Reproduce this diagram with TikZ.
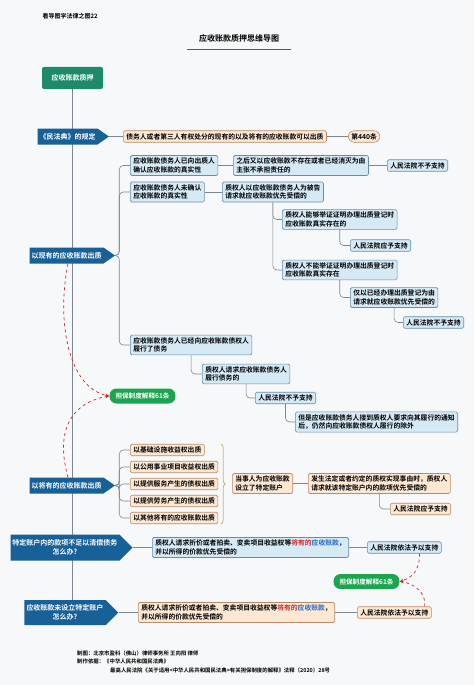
\documentclass[tikz,border=0pt]{standalone}
\usepackage{fontspec}
\setmainfont{Noto Sans CJK SC}[BoldFont={* Bold}]
\usetikzlibrary{shapes.symbols, arrows.meta, calc, decorations.pathreplacing}
\definecolor{paperfill}{RGB}{246,248,249}
\definecolor{topiccolor}{RGB}{24,96,152}
\definecolor{rootcolor}{RGB}{30,138,106}
\definecolor{pillcolor}{RGB}{28,165,80}
\definecolor{bluefill}{RGB}{214,234,246}
\definecolor{blueline}{RGB}{105,140,170}
\definecolor{orangefill}{RGB}{253,232,212}
\definecolor{orangeline}{RGB}{185,140,105}
\definecolor{linecolor}{RGB}{125,135,145}
\definecolor{notecolor}{RGB}{205,40,40}
\definecolor{bracecolor}{RGB}{205,185,105}
\definecolor{linkcolor}{RGB}{40,105,200}
\pgfdeclarelayer{paper}
\pgfdeclarelayer{links}
\pgfsetlayers{paper,links,main}

\begin{document}
\begin{tikzpicture}[x=1pt, y=-1pt,
    rootbox/.style={rectangle, rounded corners=2pt, fill=rootcolor, text=white,
                    minimum width=61pt, minimum height=22pt, font=\fontsize{7}{8}\selectfont\bfseries},
    topic/.style={signal, signal to=east, signal pointer angle=#1, fill=topiccolor, text=white,
                  align=center, inner sep=2pt, font=\fontsize{7}{9}\selectfont\bfseries},
    topic/.default=75,
    leaf/.style={rectangle, rounded corners=1.5pt, draw=#1line, fill=#1fill, line width=0.6pt,
                 align=left, inner xsep=3pt, inner ysep=2.5pt, font=\fontsize{6.8}{8.4}\selectfont\bfseries},
    pill/.style={rectangle, rounded corners=7pt, fill=pillcolor, text=white,
                 minimum height=15pt, inner xsep=6pt, font=\fontsize{6.6}{8}\selectfont\bfseries},
    foot/.style={anchor=west, inner sep=0pt, font=\fontsize{5.4}{6}\selectfont\bfseries},
    conn/.style={draw=linecolor, line width=0.6pt},
    elbow/.style={conn, rounded corners=4pt},
    note/.style={draw=notecolor, line width=0.7pt, dashed, -{Stealth[length=4pt]}}
]
\useasboundingbox (0,0) rectangle (474,685);
\begin{pgfonlayer}{paper}
  \fill[paperfill] (0,0) rectangle (474,685);
\end{pgfonlayer}

% Title
\node[font=\fontsize{6}{7}\selectfont\bfseries, anchor=west] (series) at (39,16) {看导图学法律之图22};
\node[font=\fontsize{8}{9}\selectfont\bfseries] (title) at (239,38) {应收账款质押思维导图};
\draw[notecolor, line width=0.9pt] ($(title.south west)+(-8,4)$) -- ($(title.south east)+(8,4)$);

% Trunk
\node[rootbox] (root) at (72.5,78) {应收账款质押};
\node[topic=70, minimum width=65pt, minimum height=16pt] (t1) at (67.5,136.5) {《民法典》的规定};
\node[topic=70, minimum width=79pt, minimum height=16pt] (t2) at (66.5,255.5) {以现有的应收账款出质};
\node[topic=70, minimum width=79pt, minimum height=16pt] (t3) at (66.5,485.5) {以将有的应收账款出质};
\node[topic=90, minimum width=120pt, minimum height=26pt] (t4) at (65,547.5) {特定账户内的款项不足以清偿债务\\怎么办?};
\node[topic=90, minimum width=94pt, minimum height=25pt] (t5) at (65,612.5) {应收账款未设立特定账户\\怎么办?};

% Civil code
\node[leaf=orange, anchor=west] (rule) at (123,136.5) {债务人或者第三人有权处分的现有的以及将有的应收账款可以出质};
\node[leaf=orange, anchor=west, rounded corners=6pt] (art) at (348,136.5) {第440条};

% Existing receivables
\node[leaf=blue, anchor=west] (c1) at (130,165.5) {应收账款债务人已向出质人\\确认应收账款的真实性};
\node[leaf=blue, anchor=west] (c1a) at (233,165.5) {之后又以应收账款不存在或者已经消灭为由\\主张不承担责任的};
\node[leaf=blue, anchor=west] (c1b) at (387,165.5) {人民法院不予支持};
\node[leaf=blue, anchor=west] (c2) at (130,192) {应收账款债务人未确认\\应收账款的真实性};
\node[leaf=blue, anchor=west] (c2a) at (222,192) {质权人以应收账款债务人为被告\\请求就应收账款优先受偿的};
\node[leaf=blue, anchor=west] (c2a1) at (282,219.5) {质权人能够举证证明办理出质登记时\\应收账款真实存在的};
\node[leaf=blue, anchor=west] (c2a1r) at (350,245.5) {人民法院应予支持};
\node[leaf=blue, anchor=west] (c2a2) at (282,270) {质权人不能举证证明办理出质登记时\\应收账款真实存在};
\node[leaf=blue, anchor=west] (c2a2a) at (350,297.5) {仅以已经办理出质登记为由\\请求就应收账款优先受偿的};
\node[leaf=blue, anchor=west] (c2a2b) at (403,322.5) {人民法院不予支持};
\node[leaf=blue, anchor=west] (c3) at (130,345) {应收账款债务人已经向应收账款债权人\\履行了债务};
\node[leaf=blue, anchor=west] (c3a) at (202,374) {质权人请求应收账款债务人\\履行债务的};
\node[leaf=blue, anchor=west] (c3b) at (255,398) {人民法院不予支持};
\node[leaf=blue, anchor=west] (c3c) at (295,422) {但是应收账款债务人接到质权人要求向其履行的通知\\后，仍然向应收账款债权人履行的除外};
\node[pill] (rule61a) at (142.5,396) {担保制度解释61条};

% Future receivables
\node[leaf=orange, anchor=west] (o1) at (130,450) {以基础设施收益权出质};
\node[leaf=orange, anchor=west] (o2) at (130,467) {以公用事业项目收益权出质};
\node[leaf=orange, anchor=west] (o3) at (130,484) {以提供服务产生的债权出质};
\node[leaf=orange, anchor=west] (o4) at (130,501) {以提供劳务产生的债权出质};
\node[leaf=orange, anchor=west] (o5) at (130,518) {以其他将有的应收账款出质};
\node[leaf=orange, anchor=west] (p1) at (232,483.5) {当事人为应收账款\\设立了特定账户};
\node[leaf=orange, anchor=west] (p1a) at (308,483.5) {发生法定或者约定的质权实现事由时，质权人\\请求就该特定账户内的款项优先受偿的};
\node[leaf=orange, anchor=west] (p1b) at (390,509) {人民法院应予支持};

% Special account questions
\node[leaf=blue, anchor=west] (b4) at (152,547.5) {质权人请求折价或者拍卖、变卖项目收益权等\textcolor{notecolor}{将有的}\textcolor{linkcolor}{应收账款}，\\并以所得的价款优先受偿的};
\node[leaf=blue, anchor=west] (r4) at (367,547.5) {人民法院依法予以支持};
\node[pill] (rule61b) at (366.5,581.5) {担保制度解释61条};
\node[leaf=orange, anchor=west] (b5) at (138,612.5) {质权人请求折价或者拍卖、变卖项目收益权等\textcolor{notecolor}{将有的}\textcolor{linkcolor}{应收账款}，\\并以所得的价款优先受偿的};
\node[leaf=orange, anchor=west] (r5) at (357,612.5) {人民法院依法予以支持};

% Footer
\node[foot] (credit) at (77,653) {制图：北京市盈科（佛山）律师事务所 王向阳 律师};
\node[foot] (basis) at (77,661.5) {制作依据：《中华人民共和国民法典》};
\node[foot] (basis2) at (110,670) {最高人民法院《关于适用<中华人民共和国民法典>有关担保制度的解释》法释〔2020〕28号};

% Connections
\begin{pgfonlayer}{links}
  \draw[conn] (root.south) -- (root.south |- t5.north);
  \draw[conn] (t1.east) -- (rule.west);
  \draw[conn] (rule.east) -- (art.west);
  \foreach \n in {c1,c2,c3}
    \draw[elbow] (t2.east) -- ++(4,0) |- (\n.west);
  \foreach \n in {o1,o2,o3,o4,o5}
    \draw[elbow] (t3.east) -- ++(4,0) |- (\n.west);
  \foreach \a/\b in {c1/c1a, c1a/c1b, c2/c2a, p1/p1a, t4/b4, b4/r4, t5/b5, b5/r5}
    \draw[conn] (\a.east) -- (\b.west);
  \foreach \a/\b in {c2a/c2a1, c2a/c2a2, c2a1/c2a1r, c2a2/c2a2a, c2a2a/c2a2b, c3/c3a, c3a/c3b, c3b/c3c, p1a/p1b}
    \draw[elbow] (\a.south) |- (\b.west);
\end{pgfonlayer}
\draw[draw=bracecolor, line width=0.8pt, decorate, decoration={brace, amplitude=4pt}]
  ($(o2.east |- o1.north)+(3,0)$) -- ($(o2.east |- o5.south)+(3,0)$);

% Cross references
\draw[note] ($(t2.south)+(1.5,0)$) .. controls +(-12,60) and +(-40,-8) .. (rule61a.west);
\draw[note] ($(t3.north)+(1.5,0)$) .. controls +(-14,-50) and +(-35,6) .. (rule61a.west);
\draw[note] ($(r4.south east)+(-22,0)$) .. controls +(0,18) and +(12,-4) .. (rule61b.east);
\draw[note] ($(r5.north east)+(-7,0)$) .. controls +(2,-14) and +(14,2) .. (rule61b.east);
\end{tikzpicture}
\end{document}
